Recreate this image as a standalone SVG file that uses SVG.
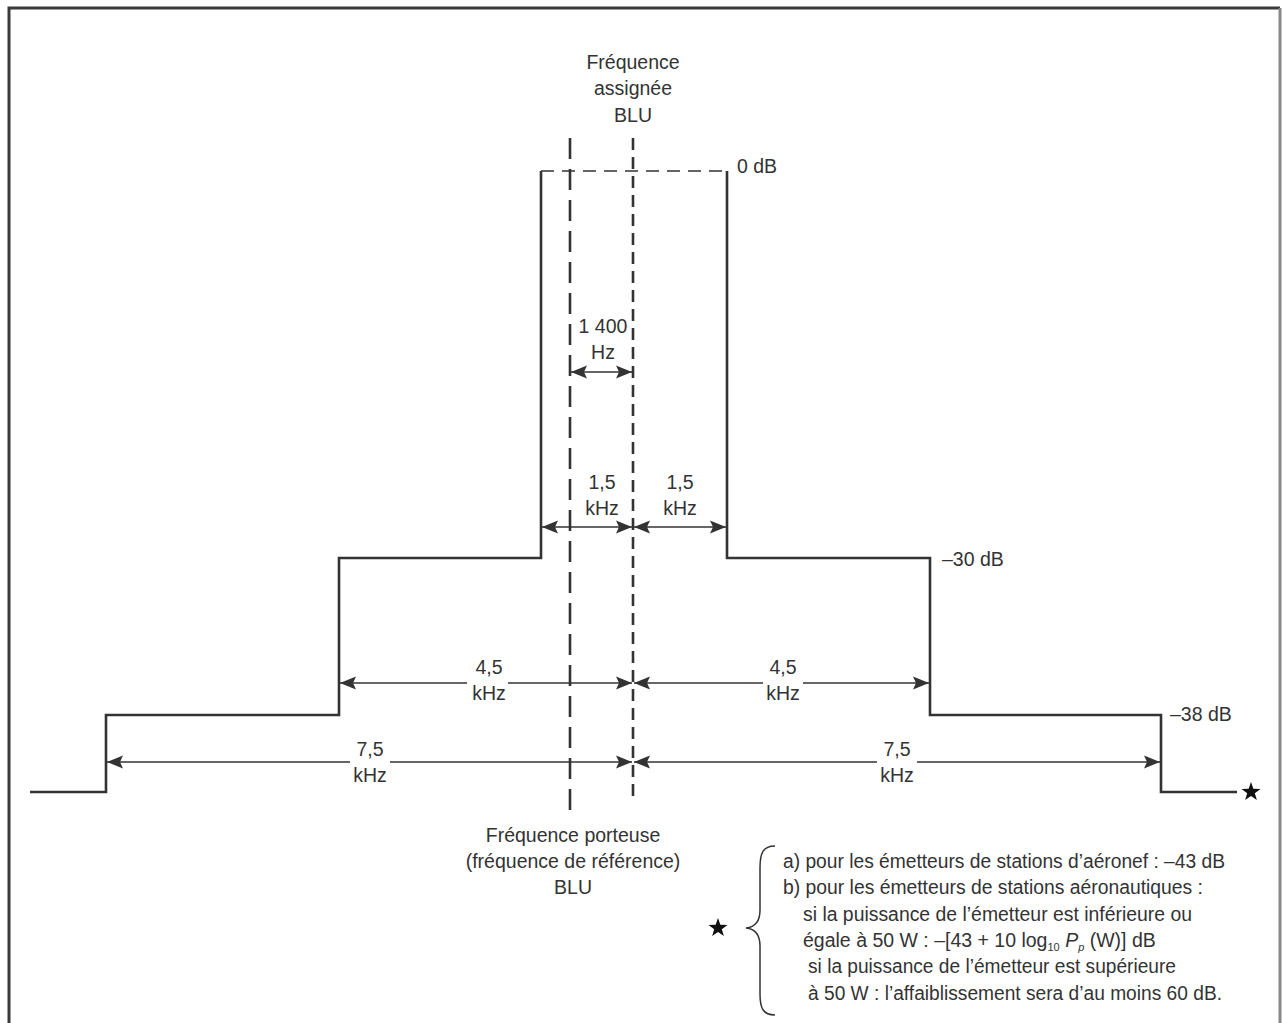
<svg xmlns="http://www.w3.org/2000/svg" width="1283" height="1023" viewBox="0 0 1283 1023">
<style>
text{font-family:"Liberation Sans",Arial,sans-serif;font-size:19.5px;fill:#333}
.c{text-anchor:middle}
.step{fill:none;stroke:#333;stroke-width:2.6}
.dim{fill:none;stroke:#333;stroke-width:1.6;marker-start:url(#ah);marker-end:url(#ah)}
.dash1{stroke:#333;stroke-width:2.6;stroke-dasharray:21 10;fill:none}
.dash2{stroke:#333;stroke-width:2.6;stroke-dasharray:12 7;fill:none}
.dash3{stroke:#333;stroke-width:1.6;stroke-dasharray:13 8;fill:none}
.bg{fill:#fff}
</style>
<defs>
<marker id="ah" markerUnits="userSpaceOnUse" markerWidth="18" markerHeight="14" refX="16" refY="6.5" orient="auto-start-reverse" viewBox="0 0 18 13">
<path d="M0,0 L16,6.5 L0,13 L3,6.5 z" fill="#333"/>
</marker>
<polygon id="star" points="0,-10 2.35,-3.24 9.51,-3.09 3.8,1.24 5.88,8.09 0,4 -5.88,8.09 -3.8,1.24 -9.51,-3.09 -2.35,-3.24" fill="#111"/>
</defs>
<g id="frame">
<path d="M9 1030 V8 H1280" fill="none" stroke="#3a3a3a" stroke-width="3"/>
<path d="M1280 8 V1030" fill="none" stroke="#888" stroke-width="3"/>
</g>
<g id="spectrum">
<path class="step" d="M30 792 H106 V715 H339 V558 H541 V171"/>
<path class="step" d="M727 171 V558 H930 V715 H1161 V792 H1237"/>
<path class="dash3" d="M541 171 H727"/>
<use href="#star" x="1251" y="792"/>
</g>
<g id="reference-lines">
<path class="dash1" d="M570 138 V820"/>
<path class="dash2" d="M633 138 V803"/>
</g>
<g id="connectors">
<path class="dim" d="M571 372 H632"/>
<path class="dim" d="M542 527 H632"/>
<path class="dim" d="M634 527 H726"/>
<path class="dim" d="M340 683 H632"/>
<path class="dim" d="M634 683 H929"/>
<path class="dim" d="M107 762 H632"/>
<path class="dim" d="M634 762 H1160"/>
</g>
<g id="label-assigned">
<text class="c" x="633" y="69">Fréquence</text>
<text class="c" x="633" y="95">assignée</text>
<text class="c" x="633" y="122">BLU</text>
</g>
<g id="label-levels">
<text x="737" y="173">0 dB</text>
<text x="942" y="566">–30 dB</text>
<text x="1170" y="721">–38 dB</text>
</g>
<g id="label-1400">
<text class="c" x="603" y="333">1 400</text>
<text class="c" x="603" y="359">Hz</text>
</g>
<g id="label-15">
<text class="c" x="602" y="489">1,5</text>
<text class="c" x="602" y="515">kHz</text>
<text class="c" x="680" y="489">1,5</text>
<text class="c" x="680" y="515">kHz</text>
</g>
<g id="label-45">
<rect class="bg" x="467" y="676" width="41" height="14"/>
<text class="c" x="489" y="674">4,5</text>
<text class="c" x="489" y="700">kHz</text>
<rect class="bg" x="763" y="676" width="40" height="14"/>
<text class="c" x="783" y="674">4,5</text>
<text class="c" x="783" y="700">kHz</text>
</g>
<g id="label-75">
<rect class="bg" x="350" y="755" width="40" height="14"/>
<text class="c" x="370" y="756">7,5</text>
<text class="c" x="370" y="782">kHz</text>
<rect class="bg" x="877" y="755" width="40" height="14"/>
<text class="c" x="897" y="756">7,5</text>
<text class="c" x="897" y="782">kHz</text>
</g>
<g id="label-carrier">
<text class="c" x="573" y="842">Fréquence porteuse</text>
<text class="c" x="573" y="868">(fréquence de référence)</text>
<text class="c" x="573" y="894">BLU</text>
</g>
<g id="note">
<use href="#star" x="718" y="928"/>
<path d="M775 846 C763 846 760 853 760 868 L760 910 C760 921 756 927 746 928 C756 929 760 935 760 946 L760 994 C760 1008 763 1015 775 1015" fill="none" stroke="#333" stroke-width="1.5"/>
<text x="783" y="868" textLength="442" lengthAdjust="spacingAndGlyphs">a) pour les émetteurs de stations d’aéronef : –43 dB</text>
<text x="783" y="894" textLength="420" lengthAdjust="spacingAndGlyphs">b) pour les émetteurs de stations aéronautiques :</text>
<text x="803" y="921" textLength="389" lengthAdjust="spacingAndGlyphs">si la puissance de l’émetteur est inférieure ou</text>
<text x="803" y="947">égale à 50 W : –[43 + 10 log<tspan font-size="11" dy="4">10</tspan><tspan dy="-4" font-style="italic"> P</tspan><tspan font-size="11" dy="4" font-style="italic">p</tspan><tspan dy="-4"> (W)] dB</tspan></text>
<text x="808" y="973" textLength="368" lengthAdjust="spacingAndGlyphs">si la puissance de l’émetteur est supérieure</text>
<text x="808" y="1000" textLength="414" lengthAdjust="spacingAndGlyphs">à 50 W : l’affaiblissement sera d’au moins 60 dB.</text>
</g>
</svg>
